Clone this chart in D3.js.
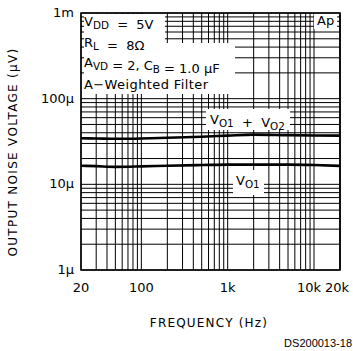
<!DOCTYPE html>
<html><head><meta charset="utf-8">
<script src="https://cdn.jsdelivr.net/npm/d3@7"></script>
<style>
html,body{margin:0;padding:0;background:#fff;}
svg text{font-family:"DejaVu Sans",sans-serif;fill:#000;white-space:pre;}
</style></head>
<body><svg id="c" width="353" height="351"></svg>
<script>
// Data (frequency in Hz, noise in volts)
const freqs = [20, 30, 50, 100, 200, 500, 1000, 2000, 5000, 10000, 20000];
const vo1 = [16.5e-6, 16.3e-6, 16.0e-6, 16.2e-6, 16.5e-6, 16.8e-6, 17.0e-6, 17.0e-6, 17.0e-6, 16.8e-6, 16.4e-6];
const vo1vo2 = [34.5e-6, 34.3e-6, 34.0e-6, 34.3e-6, 35.0e-6, 36.0e-6, 37.0e-6, 38.0e-6, 37.5e-6, 37.2e-6, 37.0e-6];
const xTickVals = [20, 100, 1000, 10000, 20000];
const xTickLabels = ["20", "100", "1k", "10k", "20k"];
const yTickVals = [1e-6, 1e-5, 1e-4, 1e-3];
const yTickLabels = ["1\u00b5", "10\u00b5", "100\u00b5", "1m"];

const svg = d3.select("#c");
const L = 81, R = 340, T = 13, B = 270;
const x = d3.scaleLog().domain([20, 20000]).range([L, R]);
const y = d3.scaleLog().domain([1e-6, 1e-3]).range([B, T]);

// grid values
const xGrid = [];
for (let d = 10; d <= 10000; d *= 10) for (let m = 1; m <= 9; m++) { const v = d * m; if (v >= 20 && v <= 20000) xGrid.push(v); }
xGrid.push(20000);
const yGrid = [];
for (let d = 1e-6; d < 1e-3 * 1.01; d *= 10) for (let m = 1; m <= 9; m++) { const v = d * m; if (v <= 1.0001e-3) yGrid.push(v); }

const g = svg.append("g");
g.selectAll("line.vx").data(xGrid).enter().append("line")
  .attr("x1", d => x(d)).attr("x2", d => x(d)).attr("y1", T).attr("y2", B)
  .attr("stroke", "#000").attr("stroke-width", 1);
g.selectAll("line.hy").data(yGrid).enter().append("line")
  .attr("y1", d => y(d)).attr("y2", d => y(d)).attr("x1", L).attr("x2", R)
  .attr("stroke", "#000").attr("stroke-width", 1);

// curves
const line = d3.line().x((d, i) => x(freqs[i])).y(d => y(d)).curve(d3.curveMonotoneX);
[vo1, vo1vo2].forEach(s => {
  svg.append("path").attr("d", line(s)).attr("fill", "none").attr("stroke", "#000").attr("stroke-width", 2.6);
});

// white boxes for annotations
function box(x0, y0, x1, y1) {
  svg.append("rect").attr("x", x0).attr("y", y0).attr("width", x1 - x0).attr("height", y1 - y0).attr("fill", "#fff");
}
box(L + 1, T + 1, 165, 43);
box(L + 1, 43, 235, 94);
box(314, T + 1, R - 1, 29);
box(206, 109, 290, 130);
box(233, 170, 264, 195);

// small inner ticks along edges inside boxes
svg.selectAll("line.lt").data(yGrid.filter(v => y(v) > T + 2 && y(v) < 94)).enter().append("line")
  .attr("x1", L).attr("x2", L + 3).attr("y1", d => y(d)).attr("y2", d => y(d)).attr("stroke", "#000");
svg.selectAll("line.rt").data(yGrid.filter(v => y(v) > T + 2 && y(v) < 29)).enter().append("line")
  .attr("x1", R - 3).attr("x2", R).attr("y1", d => y(d)).attr("y2", d => y(d)).attr("stroke", "#000");

// frame
svg.append("rect").attr("x", L).attr("y", T).attr("width", R - L).attr("height", B - T)
  .attr("fill", "none").attr("stroke", "#000").attr("stroke-width", 1.5);

// annotation texts
function sub(t, parts, fs) {
  parts.forEach(p => {
    if (p.s) {
      t.append("tspan").attr("dy", 3).attr("font-size", fs * 0.8).text(p.s);
      t.append("tspan").attr("dy", -3).text("");
    } else t.append("tspan").text(p.t);
  });
}
const fs = 13;
let t;
t = svg.append("text").attr("x", 84).attr("y", 26).attr("font-size", fs);
sub(t, [{t: "V"}, {s: "DD"}, {t: "  =  5V"}], fs);
t = svg.append("text").attr("x", 84).attr("y", 47).attr("font-size", fs);
sub(t, [{t: "R"}, {s: "L"}, {t: "  =  8\u03a9"}], fs);
t = svg.append("text").attr("x", 84).attr("y", 67).attr("font-size", fs);
sub(t, [{t: "A"}, {s: "VD"}, {t: " = 2, C"}, {s: "B"}, {t: " = 1.0 \u00b5F"}], fs);
svg.append("text").attr("x", 84).attr("y", 89).attr("font-size", fs).attr("letter-spacing", 0.4).text("A\u2212Weighted Filter");
svg.append("text").attr("x", 317).attr("y", 25).attr("font-size", fs).text("Ap");
t = svg.append("text").attr("x", 210).attr("y", 124).attr("font-size", fs);
sub(t, [{t: "V"}, {s: "O1"}, {t: "  +  V"}, {s: "O2"}], fs);
t = svg.append("text").attr("x", 236).attr("y", 185).attr("font-size", fs);
sub(t, [{t: "V"}, {s: "O1"}], fs);

// axis tick labels
svg.selectAll("text.xl").data(xTickVals).enter().append("text")
  .attr("x", (d, i) => x(d) + (i === 3 ? -5 : i === 4 ? -3 : 0)).attr("y", 292)
  .attr("text-anchor", "middle").attr("font-size", 13).text((d, i) => xTickLabels[i]);
svg.selectAll("text.yl").data(yTickVals).enter().append("text")
  .attr("x", 74).attr("y", d => y(d) + 4)
  .attr("text-anchor", "end").attr("font-size", 13).text((d, i) => yTickLabels[i]);

// axis titles
svg.append("text").attr("x", 209).attr("y", 327).attr("text-anchor", "middle")
  .attr("font-size", 12).attr("letter-spacing", 1.2).text("FREQUENCY (Hz)");
svg.append("text").attr("transform", "translate(17,152) rotate(-90)").attr("text-anchor", "middle")
  .attr("font-size", 12).attr("letter-spacing", 1.3).text("OUTPUT NOISE VOLTAGE (\u00b5V)");
svg.append("text").attr("x", 352).attr("y", 347).attr("text-anchor", "end")
  .style("font-family", "'Liberation Sans', Arial, sans-serif").attr("font-size", 11).text("DS200013-18");
</script></body></html>
